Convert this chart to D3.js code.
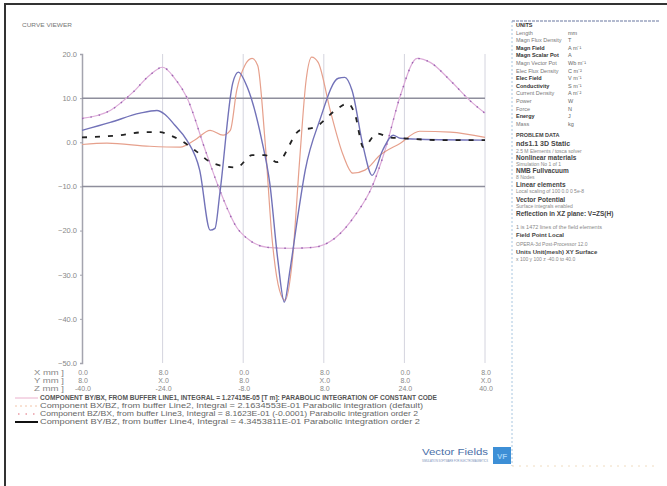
<!DOCTYPE html>
<html>
<head>
<meta charset="utf-8">
<script src="https://cdn.jsdelivr.net/npm/d3@7"></script>
<style>
  body { margin: 0; background: #fff; }
  svg { display: block; font-family: "Liberation Sans", Arial, sans-serif; }
</style>
</head>
<body>
<svg width="667" height="486"></svg>
<script>
// ---- data ----
var xTicks = [0, 10, 20, 30, 40, 50];
var yTicks = [20, 10, 0, -10, -20, -30, -40, -50];
var refLines = [10, -10];

var rowNames = ["X mm ]", "Y mm ]", "Z mm ]"];
var xRow = ["0.0", "8.0", "0.0", "8.0", "0.0", "8.0"];
var yRow = ["8.0", "X.0", "8.0", "X.0", "8.0", "X.0"];
var zRow = ["-40.0", "-24.0", "-8.0", "8.0", "24.0", "40.0"];

var pinkX = [0, 3.5, 6.3, 8.4, 10, 11.5, 13, 15.3, 17.1, 19.2, 20.8, 23, 25.8, 28.7, 31.4, 33.9, 36, 37.6, 39.5, 41.6, 43.2, 45.7, 48.1, 50];
var pinkV = [5.4, 7.2, 11.3, 15.2, 17.0, 14.5, 10.2, -1.8, -10.9, -19.3, -22.2, -23.8, -24, -23.8, -21.7, -16.5, -10, -1.8, 10.6, 19, 18.1, 14, 9.5, 6.6];

var blueX = [0, 3.5, 7.2, 9.3, 10.3, 11.5, 13, 14.6, 15.9, 16.5, 17.1, 18.7, 19.4, 20.5, 22.3, 23.3, 24.3, 25.1, 25.8, 26.7, 27.7, 29.5, 31.8, 32.6, 33.5, 34.9, 36, 37.3, 38.6, 39.5, 41.9, 50];
var blueV = [2.7, 4.5, 6.6, 7.2, 6.3, 3.9, 0.5, -6.3, -19.9, -19.5, -11.6, 13.4, 15.9, 12.5, 0.5, -9.3, -26.7, -36.2, -29, -17.7, -6.3, 5, 14.5, 14.7, 11.8, -1.1, -7.5, -1.8, 1.6, 0.9, 0.7, 0.5];

var salmonX = [0, 3.1, 8.4, 12.2, 14, 15.9, 17.5, 18.4, 19.2, 20.2, 21.1, 21.8, 22.7, 23.6, 24.5, 25.2, 26.1, 27, 27.8, 28.5, 29.3, 30.8, 32.4, 33.6, 35.1, 37, 39.5, 41.9, 45.7, 50];
var salmonV = [-0.5, -0.2, -0.9, -1.1, 0.5, 2.7, 1.6, 2.7, 11.8, 17.4, 19, 17.4, 0.5, -22.2, -33.5, -35.8, -26.7, -4.1, 14, 19.3, 18.1, 7.2, -2.9, -7, -6.3, -2.9, -0.2, 2.5, 2.3, 1.1];

var blackX = [0, 4.7, 7.8, 9.7, 10.9, 12.2, 14, 16.3, 19.2, 21.1, 22.7, 24.2, 27, 28.9, 31.4, 33, 33.9, 34.9, 36.6, 38.2, 39.8, 44.4, 50];
var blackV = [1.1, 1.6, 2.3, 2.3, 1.6, 0.5, -1.8, -4.8, -5.7, -2.9, -2.9, -4.5, 2.7, 3.4, 7.2, 8.8, 6.1, -1.1, 2, 1.1, 0.9, 0.5, 0.5];

var legendText = [
  "COMPONENT BY/BX, FROM BUFFER LINE1, INTEGRAL = 1.27415E-05 [T m]: PARABOLIC INTEGRATION OF CONSTANT CODE",
  "Component BX/BZ, from buffer Line2, Integral = 2.1634553E-01  Parabolic integration (default)",
  "Component BZ/BX, from buffer Line3, Integral = 8.1623E-01 (-0.0001)  Parabolic integration order 2",
  "Component BY/BZ, from buffer Line4, Integral = 4.3453811E-01  Parabolic integration order 2"
];
var legendEnds = [437, 423, 418, 420];

var unitNames = ["UNITS", "Length", "Magn Flux Density", "Magn Field", "Magn Scalar Pot", "Magn Vector Pot", "Elec Flux Density", "Elec Field", "Conductivity", "Current Density", "Power", "Force", "Energy", "Mass"];
var unitValues = ["", "mm", "T", "A m\u207B\u00B9", "A", "Wb m\u207B\u00B9", "C m\u207B\u00B2", "V m\u207B\u00B9", "S m\u207B\u00B9", "A m\u207B\u00B2", "W", "N", "J", "kg"];
var unitBold = [true, false, false, true, true, false, false, true, true, false, false, false, true, false];

var problemLines = [
  "PROBLEM DATA", "nds1.1 3D Static", "2.5 M Elements / tosca solver", "Nonlinear materials",
  "Simulation No 1 of 1", "NMB Fullvacuum", "8 Nodes", "Linear elements",
  "Local scaling of 100 0.0 0 5e-8", "Vector Potential", "Surface integrals enabled",
  "Reflection in XZ plane: V=ZS(H)", "1 is 1472 lines of the field elements", "Field Point Local",
  "OPERA-3d Post-Processor 12.0", "Units    Unit(mesh)    XY    Surface", "x 100  y 100  z -40.0 to 40.0"
];
var problemY = [137, 146, 153, 160, 166, 173, 179, 187, 193, 202, 208, 216, 229, 237, 246, 254, 261];
var problemSize = [5.5, 7, 5, 6.5, 5, 6.5, 5, 6.5, 5, 6.5, 5, 6.5, 5.5, 6, 5, 6, 5];
var problemBold = [true, true, false, true, false, true, false, true, false, true, false, true, false, true, false, true, false];

// ---- drawing ----
var svg = d3.select("svg");

var x = d3.scaleLinear().domain([0, 50]).range([82, 485]);
var y = d3.scaleLinear().domain([-50, 20]).range([363, 54]);

// frame (left and top edges only show in the picture)
svg.append("path").attr("d", "M5,486V4H667").attr("fill", "none")
    .attr("stroke", "#333").attr("stroke-width", 2);

svg.append("text").attr("x", 22).attr("y", 27).attr("font-size", 5.5).attr("fill", "#777")
    .attr("textLength", 50).attr("lengthAdjust", "spacingAndGlyphs").text("CURVE VIEWER");

// vertical grid
svg.selectAll(".vgrid").data(xTicks.slice(1)).enter().append("line")
    .attr("class", "vgrid")
    .attr("x1", function(d) { return x(d); }).attr("x2", function(d) { return x(d); })
    .attr("y1", y(20)).attr("y2", y(-50))
    .attr("stroke", "#d4d4de").attr("stroke-width", 1);

// y axis
var yAxis = svg.append("g").attr("transform", "translate(" + x(0) + ",0)")
    .call(d3.axisLeft(y).tickValues(yTicks).tickSize(2).tickFormat(d3.format(".1f")));
yAxis.select(".domain").attr("stroke", "#a4a4ae").attr("stroke-width", 1.5);
yAxis.selectAll(".tick line").attr("stroke", "#a4a4ae");
yAxis.selectAll("text").attr("font-size", 7.5).attr("fill", "#888")
    .attr("font-family", "Liberation Sans, Arial, sans-serif");

// reference lines at +/-10
svg.selectAll(".ref").data(refLines).enter().append("line")
    .attr("x1", x(0)).attr("x2", x(50))
    .attr("y1", function(d) { return y(d); }).attr("y2", function(d) { return y(d); })
    .attr("stroke", "#8e8e9c").attr("stroke-width", 1.5);

var line = d3.line()
    .x(function(d) { return x(d[0]); })
    .y(function(d) { return y(d[1]); })
    .curve(d3.curveMonotoneX);

function pairs(xs, vs) { return xs.map(function(v, i) { return [v, vs[i]]; }); }

svg.append("path").datum(pairs(pinkX, pinkV)).attr("d", line)
    .attr("fill", "none").attr("stroke", "#dcaad8").attr("stroke-width", 1.2);
svg.append("path").datum(pairs(pinkX, pinkV)).attr("d", line)
    .attr("fill", "none").attr("stroke", "#9a62b0").attr("stroke-width", 1.4)
    .attr("stroke-dasharray", "1.5,7");

svg.append("path").datum(pairs(salmonX, salmonV)).attr("d", line)
    .attr("fill", "none").attr("stroke", "#e6a08c").attr("stroke-width", 1.2);

svg.append("path").datum(pairs(blueX, blueV)).attr("d", line)
    .attr("fill", "none").attr("stroke", "#7272b8").attr("stroke-width", 1.4);

svg.append("path").datum(pairs(blackX, blackV)).attr("d", line)
    .attr("fill", "none").attr("stroke", "#222").attr("stroke-width", 1.8)
    .attr("stroke-dasharray", "5,8");

// coordinate table under the axis
var rows = [xRow, yRow, zRow];
rows.forEach(function(r, i) {
    var ry = 375 + i * 8;
    svg.append("text").attr("x", 34).attr("y", ry).attr("font-size", 7).attr("fill", "#888")
        .attr("textLength", 30).attr("lengthAdjust", "spacingAndGlyphs").text(rowNames[i]);
    svg.selectAll(".row" + i).data(r).enter().append("text")
        .attr("x", function(d, j) { return x(xTicks[j]) + 1; })
        .attr("y", ry).attr("font-size", 7).attr("fill", "#888")
        .attr("text-anchor", "middle").text(function(d) { return d; });
});

// legend
var legendY = [400, 408, 416, 424];
svg.append("line").attr("x1", 15).attr("x2", 38).attr("y1", 398).attr("y2", 398)
    .attr("stroke", "#eab0cc").attr("stroke-width", 1);
svg.append("line").attr("x1", 15).attr("x2", 38).attr("y1", 406).attr("y2", 406)
    .attr("stroke", "#f2c4a8").attr("stroke-width", 1).attr("stroke-dasharray", "2,3");
svg.append("line").attr("x1", 18).attr("x2", 36).attr("y1", 414).attr("y2", 414)
    .attr("stroke", "#e06a78").attr("stroke-width", 1.2).attr("stroke-dasharray", "1.5,6");
svg.append("line").attr("x1", 15).attr("x2", 38).attr("y1", 422).attr("y2", 422)
    .attr("stroke", "#111").attr("stroke-width", 2);

svg.selectAll(".leg").data(legendText).enter().append("text")
    .attr("x", 40).attr("y", function(d, i) { return legendY[i]; })
    .attr("font-size", 7.5).attr("fill", function(d, i) { return i === 0 ? "#555" : "#666"; })
    .attr("font-weight", function(d, i) { return i === 0 ? "bold" : "normal"; })
    .attr("textLength", function(d, i) { return legendEnds[i] - 40; })
    .attr("lengthAdjust", "spacingAndGlyphs")
    .text(function(d) { return d; });

// right info panel
svg.append("line").attr("x1", 512).attr("x2", 512).attr("y1", 21).attr("y2", 466)
    .attr("stroke", "#a8c6e0").attr("stroke-width", 1).attr("stroke-dasharray", "2,2");
svg.append("line").attr("x1", 512).attr("x2", 660).attr("y1", 21).attr("y2", 21)
    .attr("stroke", "#9aa4c0").attr("stroke-width", 1.5).attr("stroke-dasharray", "3,1");
svg.append("line").attr("x1", 512).attr("x2", 657).attr("y1", 466).attr("y2", 466)
    .attr("stroke", "#f0dcc0").attr("stroke-width", 1).attr("stroke-dasharray", "2,5");

svg.selectAll(".uname").data(unitNames).enter().append("text")
    .attr("x", 516).attr("y", function(d, i) { return 27 + i * 7.6; })
    .attr("font-size", 5.5).attr("fill", function(d, i) { return unitBold[i] ? "#333" : "#777"; })
    .attr("font-weight", function(d, i) { return unitBold[i] ? "bold" : "normal"; })
    .text(function(d) { return d; });
svg.selectAll(".uval").data(unitValues).enter().append("text")
    .attr("x", 568).attr("y", function(d, i) { return 27 + i * 7.6; })
    .attr("font-size", 5.5).attr("fill", "#666")
    .text(function(d) { return d; });

svg.selectAll(".prob").data(problemLines).enter().append("text")
    .attr("x", 516).attr("y", function(d, i) { return problemY[i]; })
    .attr("font-size", function(d, i) { return problemSize[i]; })
    .attr("font-weight", function(d, i) { return problemBold[i] ? "bold" : "normal"; })
    .attr("fill", function(d, i) { return problemBold[i] ? "#444" : "#888"; })
    .text(function(d) { return d; });

// logo
svg.append("text").attr("x", 488).attr("y", 455).attr("text-anchor", "end")
    .attr("font-size", 9).attr("fill", "#4a6fa8").attr("textLength", 66)
    .attr("lengthAdjust", "spacingAndGlyphs").text("Vector Fields");
svg.append("text").attr("x", 488).attr("y", 462).attr("text-anchor", "end")
    .attr("font-size", 3).attr("fill", "#7a8fb8").attr("textLength", 66)
    .attr("lengthAdjust", "spacingAndGlyphs").text("SIMULATION SOFTWARE FOR ELECTROMAGNETICS");
svg.append("rect").attr("x", 493).attr("y", 447).attr("width", 18).attr("height", 17)
    .attr("fill", "#3d8fd6");
svg.append("text").attr("x", 502).attr("y", 459).attr("text-anchor", "middle")
    .attr("font-size", 8).attr("font-weight", "bold").attr("fill", "#9fd0f4").text("VF");
</script>
</body>
</html>
